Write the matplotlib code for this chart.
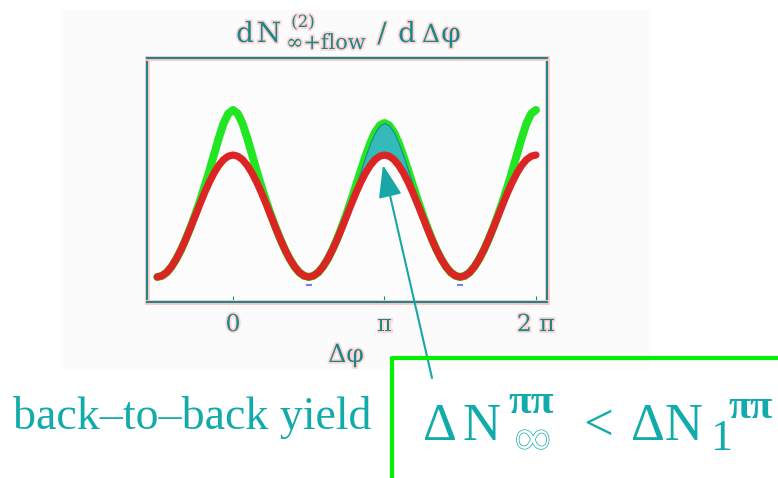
import numpy as np
import matplotlib.pyplot as plt
import matplotlib.patheffects as pe
from matplotlib.patches import Rectangle
from matplotlib.lines import Line2D

# sample positions along delta-phi, in units of pi (every pi/32 from -pi/2 to 2pi)
dphi = np.arange(-16, 65) / 32.0

# flow-only correlation (red curve)
flow = [0.25, 0.262, 0.296, 0.353, 0.429, 0.521, 0.626, 0.741,
        0.86, 0.979, 1.094, 1.199, 1.291, 1.367, 1.424, 1.458,
        1.47, 1.458, 1.424, 1.367, 1.291, 1.199, 1.094, 0.979,
        0.86, 0.741, 0.626, 0.521, 0.429, 0.353, 0.296, 0.262,
        0.25, 0.262, 0.296, 0.353, 0.429, 0.521, 0.626, 0.741,
        0.86, 0.979, 1.094, 1.199, 1.291, 1.367, 1.424, 1.458,
        1.47, 1.458, 1.424, 1.367, 1.291, 1.199, 1.094, 0.979,
        0.86, 0.741, 0.626, 0.521, 0.429, 0.353, 0.296, 0.262,
        0.25, 0.262, 0.296, 0.353, 0.429, 0.521, 0.626, 0.741,
        0.86, 0.979, 1.094, 1.199, 1.291, 1.367, 1.424, 1.458, 1.47]

# jets + flow (green curve)
jet_flow = [0.25, 0.262, 0.296, 0.353, 0.429, 0.521, 0.628, 0.746,
            0.873, 1.009, 1.156, 1.312, 1.477, 1.641, 1.785, 1.884,
            1.92, 1.884, 1.785, 1.641, 1.477, 1.312, 1.156, 1.009,
            0.873, 0.746, 0.628, 0.521, 0.429, 0.353, 0.296, 0.262,
            0.25, 0.262, 0.296, 0.353, 0.429, 0.523, 0.632, 0.753,
            0.884, 1.023, 1.169, 1.316, 1.459, 1.589, 1.696, 1.765,
            1.79, 1.765, 1.696, 1.589, 1.459, 1.316, 1.169, 1.023,
            0.884, 0.753, 0.632, 0.523, 0.429, 0.353, 0.296, 0.262,
            0.25, 0.262, 0.296, 0.353, 0.429, 0.521, 0.628, 0.746,
            0.873, 1.009, 1.156, 1.312, 1.477, 1.641, 1.785, 1.884, 1.92]

# little blue marks under the minima
min_x = [0.5, 1.5]
min_y = [0.17, 0.17]

tick_pos = [0, 1, 2]
tick_lab = ['0', 'π', '2 π']

W, H = 778, 478
teal = '#1a8888'
teal2 = '#12abab'
halo = [pe.withStroke(linewidth=2.5, foreground='#ffd4d4')]


def fx(x):
    return x / W


def fy(y):
    return 1 - y / H


fig = plt.figure(figsize=(W / 100, H / 100), dpi=100)
fig.patches.append(Rectangle((fx(62), fy(370)), (650 - 62) / W, (370 - 10) / H,
                             transform=fig.transFigure, facecolor='#fbfbfb',
                             edgecolor='none', zorder=-5))

ax = fig.add_axes([fx(147), fy(302), 400 / W, 244 / H])
ax.set_facecolor('#fcfcfc')
ax.set_zorder(2)

ax.plot(dphi, jet_flow, color='#22e622', lw=5.8, solid_capstyle='round',
        solid_joinstyle='round', zorder=2)
# away-side excess (shaded)
ax.fill_between(dphi[41:56], flow[41:56], jet_flow[41:56], facecolor='#35baba',
                edgecolor='#1b8a8a', lw=0.8, zorder=3)
ax.plot(dphi, flow, color='#dd2424', lw=5.2, solid_capstyle='round',
        solid_joinstyle='round', zorder=4)
ax.scatter(min_x, min_y, marker='_', color='#7a7aff', s=25, lw=1.5, zorder=1)

ax.set_xlim(-0.568, 2.073)
ax.set_ylim(0, 2.44)
ax.set_yticks([])
ax.set_xticks(tick_pos)
ax.set_xticklabels(tick_lab)
ax.tick_params(axis='x', direction='in', length=4, color=teal, labelsize=17,
               labelcolor=teal, pad=8)
for lab in ax.get_xticklabels():
    lab.set_fontfamily('DejaVu Serif')
    lab.set_path_effects(halo)
for sp in ax.spines.values():
    sp.set_color(teal)
    sp.set_linewidth(1.5)
    sp.set_path_effects([pe.Stroke(linewidth=3.5, foreground='#ffc8c8'), pe.Normal()])

# title dN^(2)_{inf+flow} / d delta phi
tf = 'DejaVu Serif'
for s, x, y, size in [('d', 245, 42, 20), ('N', 269, 42, 20), ('(2)', 303, 27, 12),
                      ('∞+flow', 326, 49, 15), ('/', 382, 42, 20), ('d', 407, 42, 20),
                      ('Δ', 431, 42, 18), ('φ', 451, 42, 20)]:
    fig.text(fx(x), fy(y), s, family=tf, fontsize=size, color=teal,
             ha='center', va='baseline', path_effects=halo)

fig.text(fx(346), fy(362), 'Δφ', family=tf, fontsize=18, color=teal,
         ha='center', va='baseline', path_effects=halo)

# green frame around the formula
fig.add_artist(Line2D([fx(392), fx(392), fx(790)], [fy(490), fy(358), fy(358)],
                      transform=fig.transFigure, color='#00f000', lw=3, zorder=3))

serif = 'Liberation Serif'
fig.text(fx(13), fy(429), 'back–to–back yield', family=serif, fontsize=33,
         color=teal2, ha='left', va='baseline')

for s, x, y, size, w in [('Δ', 423, 440, 38, 'normal'), ('N', 462, 440, 38, 'normal'),
                         ('ππ', 508, 413, 30, 'bold'), ('<', 583, 440, 38, 'normal'),
                         ('ΔN', 631, 440, 38, 'normal'), ('1', 710, 450, 32, 'normal'),
                         ('ππ', 728, 418, 29, 'bold')]:
    fig.text(fx(x), fy(y), s, family=serif, fontsize=size, color=teal2,
             fontweight=w, ha='left', va='baseline')
fig.text(fx(515), fy(454), '∞', family=serif, fontsize=36, color='white',
         ha='left', va='baseline',
         path_effects=[pe.Stroke(linewidth=1.0, foreground=teal2), pe.Normal()])

ax.annotate('', xy=(fx(383), fy(165)), xycoords='figure fraction',
            xytext=(fx(432), fy(378)), textcoords='figure fraction',
            arrowprops=dict(arrowstyle='-|>,head_length=1.0,head_width=0.36',
                            mutation_scale=20, color='#18a6a6', lw=1.5,
                            shrinkA=0, shrinkB=0),
            annotation_clip=False, zorder=10)

fig.savefig('out.png', dpi=100)
